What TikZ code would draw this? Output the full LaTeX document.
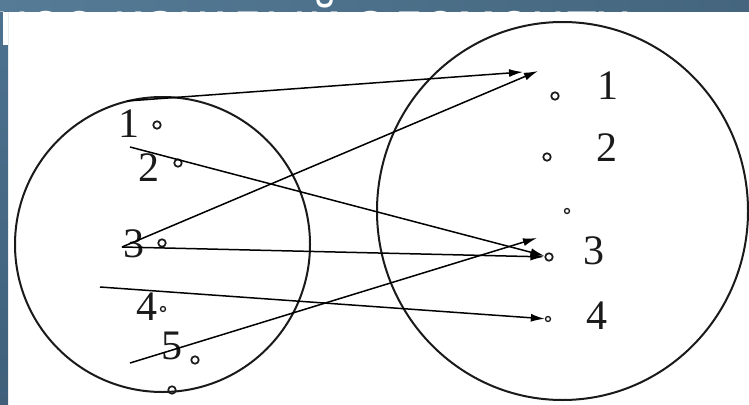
\documentclass[tikz,border=0pt]{standalone}
\usepackage{fontspec}
\setmainfont{Liberation Serif}
\newfontfamily\titlefont{DejaVu Sans}
\usetikzlibrary{arrows.meta,shapes.geometric}
\definecolor{bandL}{HTML}{557B96}
\definecolor{bandR}{HTML}{44657D}
\definecolor{stripT}{HTML}{4C7290}
\definecolor{stripM}{HTML}{6A9BBD}
\definecolor{stripB}{HTML}{40607A}
\definecolor{ink}{HTML}{1A1A1A}
\begin{document}
\begin{tikzpicture}[x=1pt,y=-1pt,
  setline/.style={draw=ink,line width=2pt,inner sep=0pt},
  dot/.style={circle,draw=ink,line width=1.7pt,minimum size=7.5pt,inner sep=0pt},
  sdot/.style={circle,draw=ink,line width=1.3pt,minimum size=5pt,inner sep=0pt},
  num/.style={font=\fontsize{42}{42}\selectfont,text=ink,inner sep=0pt},
  map/.style={-{Latex[length=14pt,width=8pt]},draw=black,line width=1.5pt}]
\useasboundingbox (0,0) rectangle (749,404);
\fill[white] (0,0) rectangle (749,404);
% slide background
\shade[left color=bandL,right color=bandR] (0,0) rectangle (749,12);
\shade[top color=stripT,middle color=stripM,bottom color=stripB] (0,12) rectangle (8,404);
\fill[white] (3,12) rectangle (8,45);
\begin{scope}
  \clip (0,0) rectangle (749,12);
  \node[anchor=base west,text=white,inner sep=0pt,
        font=\titlefont\fontsize{54}{54}\selectfont] (title) at (-6,41.5) {ное каждый элементу};
\end{scope}
% sets
\node[setline,circle,minimum size=295pt] (A) at (162.5,244.5) {};
\node[setline,ellipse,minimum width=371pt,minimum height=378pt] (B) at (562.5,211) {};
% left elements
\node[dot] (L1) at (157,125) {};
\node[dot] (L2) at (178,163) {};
\node[dot] (L3) at (162,243) {};
\node[sdot] (L4) at (163,309) {};
\node[dot] (L5) at (195,360) {};
\node[dot] (L6) at (172,390) {};
\node[num] (l1) at (129,124) {1};
\node[num] (l2) at (149,168) {2};
\node[num] (l3) at (134,244) {3};
\node[num] (l4) at (147,307) {4};
\node[num] (l5) at (172,346) {5};
% right elements
\node[dot] (R1) at (555,96) {};
\node[dot] (R2) at (547,157) {};
\node[sdot] (Rm) at (567,211) {};
\node[dot] (R3) at (549,257) {};
\node[sdot] (R4) at (548,319) {};
\node[num] (r1) at (608,86) {1};
\node[num] (r2) at (607,148) {2};
\node[num] (r3) at (594,251) {3};
\node[num] (r4) at (597,316) {4};
% connector ends
\coordinate (s1) at (127,101);
\coordinate (s2) at (130,147);
\coordinate (s3) at (122,247);
\coordinate (s4) at (100,287);
\coordinate (s5) at (130,363);
\coordinate (t1a) at (523,72);
\coordinate (t1b) at (538,71);
\coordinate (t3b) at (537,238);
% mappings
\draw[map] (s1) -- (t1a);
\draw[map] (s3) -- (t1b);
\draw[map] (s3) -- (R3);
\draw[map] (s2) -- (R3);
\draw[map] (s4) -- (R4);
\draw[map] (s5) -- (t3b);
\end{tikzpicture}
\end{document}
